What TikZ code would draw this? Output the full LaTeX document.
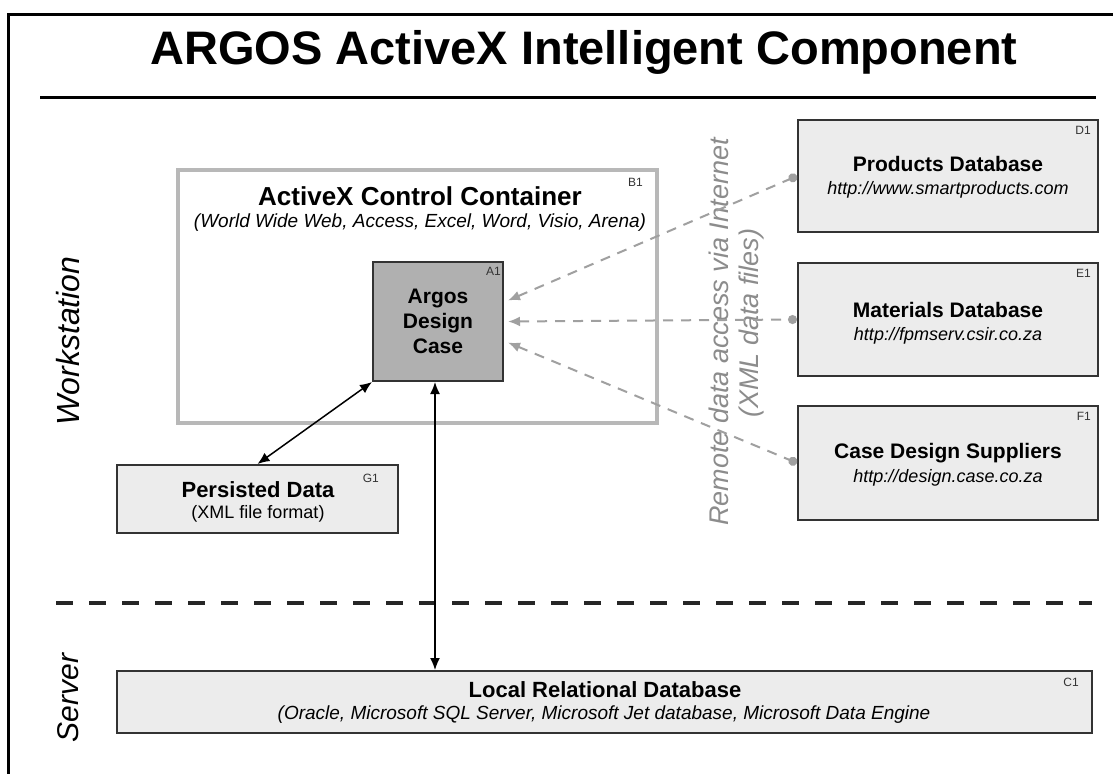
\documentclass[tikz,border=0pt]{standalone}
\usepackage{fontspec}
\setmainfont{Liberation Sans}
\usetikzlibrary{arrows.meta}
\definecolor{boxfill}{HTML}{ECECEC}
\definecolor{boxline}{HTML}{333333}
\definecolor{contline}{HTML}{B8B8B8}
\definecolor{afill}{HTML}{B0B0B0}
\definecolor{dashgray}{HTML}{A0A0A0}
\definecolor{remgray}{HTML}{8C8C8C}
\begin{document}
\begin{tikzpicture}[x=1pt,y=-1pt,
  dbbox/.style={draw=boxline,line width=2pt,fill=boxfill,inner sep=0pt,align=center},
  idlab/.style={font=\fontsize{12}{12}\selectfont,text=boxline,anchor=north east,inner sep=0pt},
  ttl/.style={font=\bfseries\fontsize{21}{21}\selectfont,inner sep=0pt},
  url/.style={font=\itshape\fontsize{18}{18}\selectfont,inner sep=0pt},
  remote/.style={draw=dashgray,line width=2pt,dash pattern=on 10pt off 8pt,
     {Latex[length=12pt,width=10pt]}-{Circle[length=9pt,width=9pt]}},
  solidarr/.style={draw=black,line width=1.5pt,{Latex[length=12pt,width=10pt]}-{Latex[length=12pt,width=10pt]}}
]
\useasboundingbox (0,0) rectangle (1113,774);
\fill[white] (0,0) rectangle (1113,774);
% frame
\draw[line width=3pt] (1113,14) -- (8,14) -- (8,774);
\node[font=\bfseries\fontsize{47}{47}\selectfont,inner sep=0pt] (title) at (584,52) {ARGOS ActiveX Intelligent Component};
\draw[line width=3pt] (40,97) -- (1096,97);
% side labels
\node[rotate=90,font=\itshape\fontsize{32}{32}\selectfont,inner sep=0pt] (ws) at (68,341) {Workstation};
\node[rotate=90,font=\itshape\fontsize{30}{30}\selectfont,inner sep=0pt] (srv) at (68,698) {Server};
% container B1
\node[draw=contline,line width=4pt,minimum width=479pt,minimum height=253pt,inner sep=0pt] (B1) at (417.5,296.5) {};
\node[font=\bfseries\fontsize{26}{26}\selectfont,inner sep=0pt] (B1t) at (420,196) {ActiveX Control Container};
\node[font=\itshape\fontsize{19}{19}\selectfont,inner sep=0pt] (B1s) at (420,223) {(World Wide Web, Access, Excel, Word, Visio, Arena)};
\node[idlab] (B1l) at ([xshift=-16pt,yshift=-10pt]B1.north east) {B1};
% A1
\node[draw=boxline,line width=2pt,fill=afill,minimum width=130pt,minimum height=119pt,inner sep=0pt,align=center,
  font=\bfseries\fontsize{21}{25}\selectfont] (A1) at (438,321.5) {Argos\\Design\\Case};
\node[idlab] (A1l) at ([xshift=-3pt,yshift=-6pt]A1.north east) {A1};
% D1 E1 F1
\node[dbbox,minimum width=300pt,minimum height=112pt] (D1) at (948,176) {};
\node[ttl] (D1t) at (948,164) {Products Database};
\node[url] (D1u) at (948,190) {http://www.smartproducts.com};
\node[idlab] (D1l) at ([xshift=-8pt,yshift=-7pt]D1.north east) {D1};
\node[dbbox,minimum width=300pt,minimum height=113pt] (E1) at (948,319.5) {};
\node[ttl] (E1t) at (948,310) {Materials Database};
\node[url] (E1u) at (948,336) {http://fpmserv.csir.co.za};
\node[idlab] (E1l) at ([xshift=-8pt,yshift=-7pt]E1.north east) {E1};
\node[dbbox,minimum width=300pt,minimum height=114pt] (F1) at (948,463) {};
\node[ttl] (F1t) at (948,453) {Case Design Suppliers};
\node[url] (F1u) at (948,478) {http://design.case.co.za};
\node[idlab] (F1l) at ([xshift=-8pt,yshift=-7pt]F1.north east) {F1};
% G1
\node[dbbox,minimum width=281pt,minimum height=68pt] (G1) at (257.5,499) {};
\node[font=\bfseries\fontsize{22}{22}\selectfont,inner sep=0pt] (G1t) at (258,490) {Persisted Data};
\node[font=\fontsize{18}{18}\selectfont,inner sep=0pt] (G1u) at (258,514) {(XML file format)};
\node[idlab] (G1l) at ([xshift=-20pt,yshift=-10pt]G1.north east) {G1};
% C1
\node[dbbox,minimum width=975pt,minimum height=62pt] (C1) at (604.5,702) {};
\node[font=\bfseries\fontsize{22}{22}\selectfont,inner sep=0pt] (C1t) at (605,690) {Local Relational Database};
\node[font=\itshape\fontsize{19}{19}\selectfont,inner sep=0pt] (C1u) at (604,715) {(Oracle, Microsoft SQL Server, Microsoft Jet database, Microsoft Data Engine};
\node[idlab] (C1l) at ([xshift=-14pt,yshift=-8pt]C1.north east) {C1};
% remote label
\node[rotate=90,font=\itshape\fontsize{27}{27}\selectfont,text=remgray,inner sep=0pt] (rem1) at (719,332) {Remote data access via Internet};
\node[rotate=90,font=\itshape\fontsize{27}{27}\selectfont,text=remgray,inner sep=0pt] (rem2) at (752,323) {(XML data files)};
% separator
\draw[line width=4pt,dash pattern=on 17pt off 16pt,draw=black!85] (56,603) -- (1092,603);
% remote arrows
\coordinate (a1) at ([yshift=21pt]A1.east);
\coordinate (a3) at ([yshift=-21pt]A1.east);
\draw[remote] ([xshift=4pt]a1) -- (D1.west);
\draw[remote] ([xshift=4pt]A1.east) -- (E1.west);
\draw[remote] ([xshift=4pt]a3) -- (F1.west);
% solid arrows
\draw[solidarr] (A1.south west) -- (G1.north);
\coordinate (vtop) at ([xshift=-3pt]A1.south);
\draw[solidarr] (vtop) -- (vtop |- C1.north);
\end{tikzpicture}
\end{document}
